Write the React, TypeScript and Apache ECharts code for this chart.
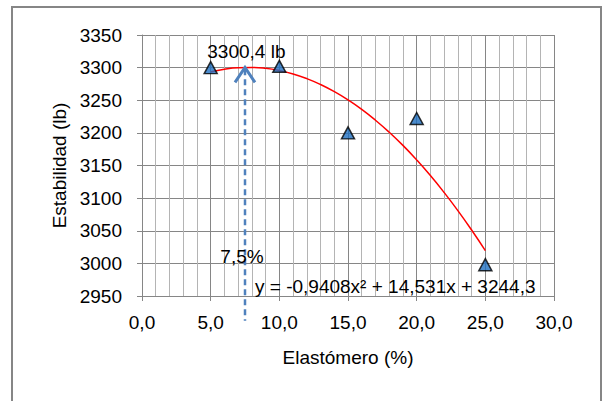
import React, { useEffect, useRef } from "react";
import * as echarts from "echarts";

const pointsX = [5, 10, 15, 20, 25];
const pointsY = [3300, 3302, 3200, 3222, 2998];

const trendX = [5, 6, 7, 8, 9, 10, 11, 12, 13, 14, 15, 16, 17, 18, 19, 20, 21, 22, 23, 24, 25];
const trendY = [3293.4, 3297.6, 3299.9, 3300.3, 3298.9, 3295.5, 3290.3, 3283.2, 3274.2, 3263.3, 3250.6, 3236.0, 3219.4, 3201.0, 3180.8, 3158.6, 3134.6, 3108.6, 3080.8, 3051.1, 3019.6];

const optimumX = 7.5;
const optimumY = 3300.4;
const optimumLabel = "3300,4 lb";
const optimumXLabel = "7,5%";
const equationLabel = "y = -0,9408x\u00b2 + 14,531x + 3244,3";

const FONT = "'Liberation Sans', Arial, sans-serif";
const FS = 19;

export default function App() {
  const ref = useRef<HTMLDivElement>(null);
  useEffect(() => {
    if (!ref.current) return;
    const chart = echarts.init(ref.current, null, { renderer: "svg" });
    chart.setOption({
      animation: false,
      backgroundColor: "#ffffff",
      textStyle: { fontFamily: FONT },
      grid: { left: 142, right: 56, top: 35, bottom: 105 },
      xAxis: {
        type: "value",
        min: 0,
        max: 30,
        interval: 5,
        name: "Elastómero (%)",
        nameLocation: "middle",
        nameGap: 52,
        nameTextStyle: { fontSize: FS, color: "#000", fontFamily: FONT },
        axisLine: { show: true, lineStyle: { color: "#868686", width: 1 } },
        axisTick: { show: true, length: 5, lineStyle: { color: "#868686" } },
        axisLabel: {
          fontSize: FS,
          color: "#000",
          margin: 17,
          fontFamily: FONT,
          formatter: (v: number) => v.toFixed(1).replace(".", ","),
        },
        splitLine: { show: true, lineStyle: { color: "#868686", width: 1 } },
        minorTick: { show: true, splitNumber: 5, length: 0, lineStyle: { color: "#868686", width: 0 } },
        minorSplitLine: { show: true, lineStyle: { color: "#b4b4b4", width: 1 } },
      },
      yAxis: {
        type: "value",
        min: 2950,
        max: 3350,
        interval: 50,
        name: "Estabilidad (lb)",
        nameLocation: "middle",
        nameGap: 70,
        nameTextStyle: { fontSize: FS, color: "#000", fontFamily: FONT },
        axisLine: { show: true, lineStyle: { color: "#868686", width: 1 } },
        axisTick: { show: true, length: 5, lineStyle: { color: "#868686" } },
        axisLabel: {
          fontSize: FS,
          color: "#000",
          margin: 20,
          fontFamily: FONT,
          formatter: (v: number) => String(v),
        },
        splitLine: { show: true, lineStyle: { color: "#868686", width: 1 } },
      },
      series: [
        {
          type: "line",
          data: trendX.map((x, i) => [x, trendY[i]]),
          showSymbol: false,
          smooth: true,
          lineStyle: { color: "#ff0000", width: 1.5 },
          z: 3,
        },
        {
          type: "scatter",
          data: pointsX.map((x, i) => [x, pointsY[i]]),
          symbol: "triangle",
          symbolSize: [13, 12],
          itemStyle: { color: "#1f6fc0", borderColor: "#000", borderWidth: 1.5 },
          z: 5,
        },
      ],
    });

    const tip = chart.convertToPixel({ gridIndex: 0 }, [optimumX, optimumY]) as number[];
    const bottom = chart.convertToPixel({ gridIndex: 0 }, [optimumX, 2912]) as number[];
    const lblTop = chart.convertToPixel({ gridIndex: 0 }, [7.6, 3324]) as number[];
    const lblX = chart.convertToPixel({ gridIndex: 0 }, [7.28, 3011]) as number[];
    const eq = chart.convertToPixel({ gridIndex: 0 }, [8.23, 2963.8]) as number[];

    chart.setOption({
      graphic: [
        {
          type: "rect",
          shape: { x: 12, y: 7, width: 589, height: 400 },
          style: { fill: "none", stroke: "#868686", lineWidth: 2 },
          silent: true,
          z: 10,
        },
        {
          type: "line",
          shape: { x1: tip[0], y1: tip[1] + 2, x2: bottom[0], y2: bottom[1] },
          style: { stroke: "#4f81bd", lineWidth: 2.5, lineDash: [6, 4] },
          z: 6,
        },
        {
          type: "polyline",
          shape: {
            points: [
              [tip[0] - 10, tip[1] + 15],
              [tip[0], tip[1]],
              [tip[0] + 10, tip[1] + 15],
            ],
          },
          style: { stroke: "#4f81bd", lineWidth: 3, fill: "none" },
          z: 6,
        },
        {
          type: "text",
          x: lblTop[0],
          y: lblTop[1],
          style: {
            text: optimumLabel,
            fontSize: FS,
            fontFamily: FONT,
            fill: "#000",
            align: "center",
            verticalAlign: "middle",
          },
          z: 7,
        },
        {
          type: "text",
          x: lblX[0],
          y: lblX[1],
          style: {
            text: optimumXLabel,
            fontSize: FS,
            fontFamily: FONT,
            fill: "#000",
            align: "center",
            verticalAlign: "middle",
          },
          z: 7,
        },
        {
          type: "text",
          x: eq[0],
          y: eq[1],
          style: {
            text: equationLabel,
            fontSize: FS,
            fontFamily: FONT,
            fill: "#000",
            align: "left",
            verticalAlign: "middle",
          },
          z: 7,
        },
      ],
    });

    return () => chart.dispose();
  }, []);

  return (
    <div
      ref={ref}
      style={{ position: "absolute", left: 0, top: 0, width: 610, height: 401 }}
    />
  );
}
